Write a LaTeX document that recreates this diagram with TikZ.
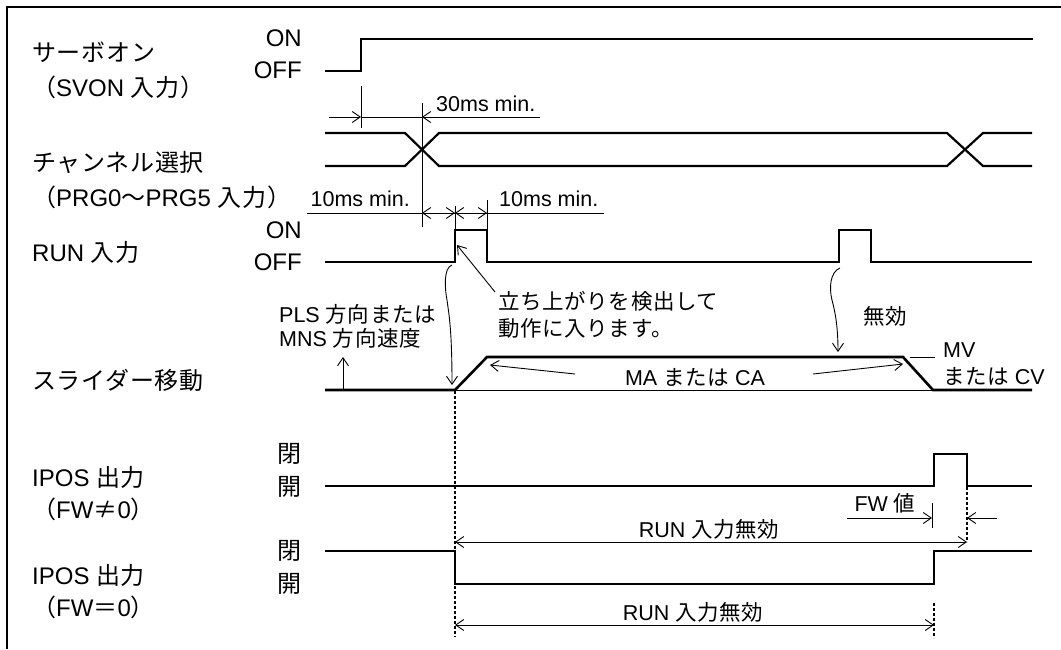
\documentclass[tikz,border=0pt]{standalone}
\usepackage{fontspec}
\setmainfont{Liberation Sans}
\newfontfamily\jp{Noto Sans CJK JP}[LetterSpace=3]
\usetikzlibrary{arrows.meta}
\newcommand\J[1]{{\jp #1}}
\newcommand\szMain{\fontsize{24}{28}\selectfont}
\newcommand\szSmall{\fontsize{21.5}{25}\selectfont}
\tikzset{
  sig/.style={line width=2.6pt},
  chan/.style={line width=2.2pt},
  dim/.style={line width=0.9pt},
  dots/.style={line width=2.2pt, dash pattern=on 2.5pt off 2.5pt},
  main/.style={inner sep=0pt, anchor=west, font=\szMain},
  state/.style={inner sep=0pt, anchor=east, font=\szMain},
  small/.style={inner sep=0pt, font=\szSmall},
  >={Straight Barb[length=8pt,width=11pt]}
}
\begin{document}
\begin{tikzpicture}[x=1pt,y=-1pt]
\useasboundingbox (0,0) rectangle (1061,649);
% frame
\draw[line width=2.5pt] (7,649) -- (7,7) -- (1061,7);

% ---------- labels ----------
\node[main] (l1a) at (32,52.5) {\J{サーボオン}};
\node[main] (l1b) at (32,87.5) {\J{（}SVON \J{入力）}};
\node[main] (l2a) at (32,162) {\J{チャンネル選択}};
\node[main] (l2b) at (32,197) {\J{（}PRG0\J{～}PRG5 \J{入力）}};
\node[main] (l3) at (32,252) {RUN \J{入力}};
\node[main] (l4) at (32,380) {\J{スライダー移動}};
\node[main] (l5a) at (32,477) {IPOS \J{出力}};
\node[main] (l5b) at (32,509) {\J{（}FW\J{≠}0\J{）}};
\node[main] (l6a) at (32,575) {IPOS \J{出力}};
\node[main] (l6b) at (32,607) {\J{（}FW\J{＝}0\J{）}};

\node[state] (on1) at (302,38) {ON};
\node[state] (off1) at (302,70) {OFF};
\node[state] (on2) at (302,230) {ON};
\node[state] (off2) at (302,262) {OFF};
\node[state] (c1) at (302,454) {\J{閉}};
\node[state] (o1) at (302,487) {\J{開}};
\node[state] (c2) at (302,551) {\J{閉}};
\node[state] (o2) at (302,584) {\J{開}};

% ---------- waveforms ----------
\coordinate (runup) at (455,230);
\draw[sig] (325,71) -- (361,71) -- (361,39) -- (1033,39);
\draw[chan] (325,133) -- (405,133) -- (439,166) -- (947,166) -- (983,133) -- (1032,133);
\draw[chan] (325,166) -- (405,166) -- (439,133) -- (947,133) -- (983,166) -- (1032,166);
\draw[sig] (325,262) -- (455,262) -- (runup) -- (487,230) -- (487,262) -- (839,262) -- (839,230) -- (871,230) -- (871,262) -- (1032,262);
\draw[dim] (455,390) -- (933,390);
\draw[sig] (325,390) -- (455,390) -- (487,357) -- (903,357) -- (933,390) -- (1032,390);
\draw[sig] (325,486) -- (934,486) -- (934,454) -- (967,454) -- (967,486) -- (1032,486);
\draw[sig] (325,551) -- (455,551) -- (455,584) -- (934,584) -- (934,551) -- (1032,551);

% dotted guides
\draw[dots] (455,391) -- (455,637);
\draw[dots] (967,487) -- (967,542);
\draw[dots] (934,603) -- (934,638);

% ---------- dimensions ----------
\draw[dim] (361,86) -- (361,128);
\draw[dim] (422,103) -- (422,227);
\draw[dim] (455,206) -- (455,230);
\draw[dim] (487,200) -- (487,230);
\draw[dim,->] (329,117) -- (361,117);
\draw[dim] (361,117) -- (422,117);
\draw[dim,->] (540,117) -- (422,117);
\node[small, anchor=west] (t30) at (436,104) {30ms min.};

\draw[dim] (307,213) -- (604,213);
\draw[dim,<->] (422,213) -- (455,213);
\draw[dim,<->] (455,213) -- (487,213);
\node[small, anchor=east] (t10a) at (410,199) {10ms min.};
\node[small, anchor=west] (t10b) at (499,199) {10ms min.};

% rising-edge annotation
\node[small, anchor=west] (rise1) at (498,301) {\J{立ち上がりを検出して}};
\node[small, anchor=west] (rise2) at (498,328) {\J{動作に入ります。}};
\draw[dim,->] (495,292) -- (457,245);
\draw[dim,->] (452,265) .. controls (443,268) and (445,290) .. (447,300) .. controls (449,315) and (452,330) .. (452,385);
\draw[dim,->] (840,268) .. controls (830,272) and (829,288) .. (832,300) .. controls (836,315) and (838,330) .. (838,352);
\node[small, anchor=west] (inv) at (863,316) {\J{無効}};

% slider annotations
\node[small, anchor=west] (pls) at (279,314) {PLS \J{方向または}};
\node[small, anchor=west] (mns) at (279,338) {MNS \J{方向速度}};
\draw[dim,->] (343,390) -- (343,357);
\node[small] (ma) at (695,377) {MA \J{または} CA};
\draw[dim,->] (575,374) -- (490,365);
\draw[dim,->] (813,374) -- (903,364);
\draw[dim] (910,357) -- (935,357);
\node[small, anchor=west] (mv) at (943,350) {MV};
\node[small, anchor=west] (cv) at (943,376) {\J{または} CV};

% FW value
\draw[dim] (932,503) -- (932,528);
\draw[dim,->] (847,518) -- (932,518);
\draw[dim,->] (997,518) -- (967,518);
\node[small] (fw) at (885,503) {FW \J{値}};

% RUN invalid spans
\draw[dim,<->] (455,542) -- (967,542);
\node[small] (inv1) at (709,529) {RUN \J{入力無効}};
\draw[dim,<->] (455,625) -- (934,625);
\node[small] (inv2) at (693,612) {RUN \J{入力無効}};
\end{tikzpicture}
\end{document}
